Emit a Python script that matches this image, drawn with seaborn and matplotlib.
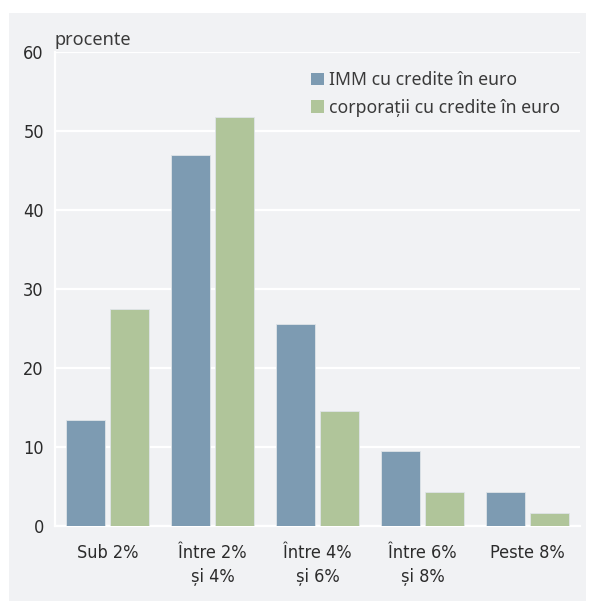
import pandas as pd
import matplotlib.pyplot as plt
import seaborn as sns
from matplotlib.patches import Rectangle

# Data
categories = ["Sub 2%", "Între 2%\nși 4%", "Între 4%\nși 6%", "Între 6%\nși 8%", "Peste 8%"]
series_names = ["IMM cu credite în euro", "corporații cu credite în euro"]
imm_values = [13.4, 47.0, 25.6, 9.5, 4.3]
corp_values = [27.5, 51.8, 14.6, 4.3, 1.7]
y_ticks = [0, 10, 20, 30, 40, 50, 60]

colors = ["#7d9bb2", "#b0c59a"]
bg = "#f1f2f4"
text_color = "#2b2b2b"

# Long-form table for seaborn
df = pd.DataFrame({
    "categorie": categories * 2,
    "serie": [series_names[0]] * len(categories) + [series_names[1]] * len(categories),
    "valoare": imm_values + corp_values,
})

sns.set_style("white")
plt.rcParams["font.family"] = ["Noto Sans", "DejaVu Sans"]

fig = plt.figure(figsize=(5.93, 6.03), dpi=100, facecolor="white")
# grey panel behind the chart
fig.patches.append(Rectangle((9 / 593, 2 / 603), 577 / 593, 588 / 603,
                             transform=fig.transFigure, facecolor=bg,
                             edgecolor="none", zorder=-10))

ax = fig.add_axes([55 / 593, 1 - 526 / 603, 525 / 593, 474 / 603])
ax.set_facecolor(bg)

sns.barplot(data=df, x="categorie", y="valoare", hue="serie",
            palette=colors, width=0.84, gap=0.1, saturation=1,
            edgecolor="#dfe4e8", linewidth=0.6, ax=ax, zorder=3)

ax.set_ylim(0, 60)
ax.set_xlim(-0.5, len(categories) - 0.5)
ax.set_yticks(y_ticks)
ax.grid(axis="y", color="white", linewidth=1.6, zorder=0)
ax.set_axisbelow(True)

for side in ["top", "right"]:
    ax.spines[side].set_visible(False)
for side in ["left", "bottom"]:
    ax.spines[side].set_color("white")
    ax.spines[side].set_linewidth(1.6)

# tick labels in a condensed font
ax.tick_params(axis="y", length=6, width=1.6, color="white", labelsize=13,
               labelcolor=text_color, pad=2)
ax.tick_params(axis="x", which="major", length=0, labelsize=13,
               labelcolor=text_color, pad=13)
ax.set_xticks([i - 0.5 for i in range(len(categories) + 1)], minor=True)
ax.tick_params(axis="x", which="minor", length=6, width=1.6, color="white")
for lbl in ax.get_xticklabels() + ax.get_yticklabels():
    lbl.set_family("DejaVu Sans")
    lbl.set_stretch("condensed")
    lbl.set_linespacing(1.45)

ax.set_xlabel("")
ax.set_ylabel("")
ax.text(0.0, 1.015, "procente", transform=ax.transAxes, fontsize=13,
        color="#3a3a3a", ha="left", va="baseline")

leg = ax.legend(loc="upper left", bbox_to_anchor=(0.475, 0.975), frameon=False,
                fontsize=12.7, handlelength=0.7, handleheight=0.7,
                handletextpad=0.3, labelspacing=0.55, borderaxespad=0)
for t in leg.get_texts():
    t.set_color("#3a3a3a")
for h in leg.legend_handles:
    h.set_edgecolor("none")

plt.savefig("out.png", dpi=100, facecolor="white")
